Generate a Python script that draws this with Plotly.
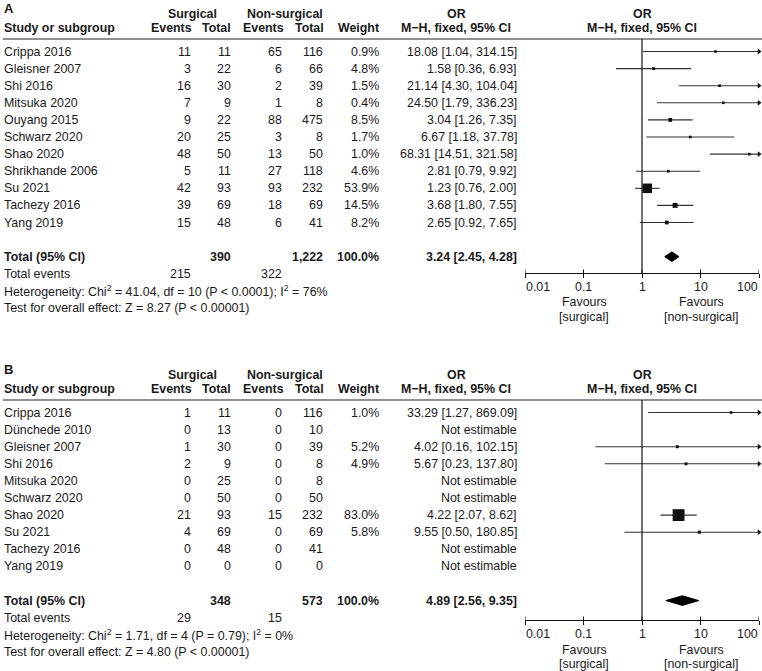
import math
import plotly.graph_objects as go

# ---------------- data ----------------
studies_a = ["Crippa 2016", "Gleisner 2007", "Shi 2016", "Mitsuka 2020", "Ouyang 2015",
             "Schwarz 2020", "Shao 2020", "Shrikhande 2006", "Su 2021", "Tachezy 2016", "Yang 2019"]
surg_ev_a = [11, 3, 16, 7, 9, 20, 48, 5, 42, 39, 15]
surg_tot_a = [11, 22, 30, 9, 22, 25, 50, 11, 93, 69, 48]
non_ev_a = [65, 6, 2, 1, 88, 3, 13, 27, 93, 18, 6]
non_tot_a = [116, 66, 39, 8, 475, 8, 50, 118, 232, 69, 41]
weight_a = [0.9, 4.8, 1.5, 0.4, 8.5, 1.7, 1.0, 4.6, 53.9, 14.5, 8.2]
or_a = [18.08, 1.58, 21.14, 24.50, 3.04, 6.67, 68.31, 2.81, 1.23, 3.68, 2.65]
lo_a = [1.04, 0.36, 4.30, 1.79, 1.26, 1.18, 14.51, 0.79, 0.76, 1.80, 0.92]
hi_a = [314.15, 6.93, 104.04, 336.23, 7.35, 37.78, 321.58, 9.92, 2.00, 7.55, 7.65]
total_a = {"surg_tot": "390", "non_tot": "1,222", "weight": "100.0%",
           "or": 3.24, "lo": 2.45, "hi": 4.28, "surg_ev": "215", "non_ev": "322"}
het_a = "Heterogeneity: Chi<sup>2</sup> = 41.04, df = 10 (P < 0.0001); I<sup>2</sup> = 76%"
test_a = "Test for overall effect: Z = 8.27 (P < 0.00001)"

studies_b = ["Crippa 2016", "Dünchede 2010", "Gleisner 2007", "Shi 2016", "Mitsuka 2020",
             "Schwarz 2020", "Shao 2020", "Su 2021", "Tachezy 2016", "Yang 2019"]
surg_ev_b = [1, 0, 1, 2, 0, 0, 21, 4, 0, 0]
surg_tot_b = [11, 13, 30, 9, 25, 50, 93, 69, 48, 0]
non_ev_b = [0, 0, 0, 0, 0, 0, 15, 0, 0, 0]
non_tot_b = [116, 10, 39, 8, 8, 50, 232, 69, 41, 0]
weight_b = [1.0, None, 5.2, 4.9, None, None, 83.0, 5.8, None, None]
or_b = [33.29, None, 4.02, 5.67, None, None, 4.22, 9.55, None, None]
lo_b = [1.27, None, 0.16, 0.23, None, None, 2.07, 0.50, None, None]
hi_b = [869.09, None, 102.15, 137.80, None, None, 8.62, 180.85, None, None]
total_b = {"surg_tot": "348", "non_tot": "573", "weight": "100.0%",
           "or": 4.89, "lo": 2.56, "hi": 9.35, "surg_ev": "29", "non_ev": "15"}
het_b = "Heterogeneity: Chi<sup>2</sup> = 1.71, df = 4 (P = 0.79); I<sup>2</sup> = 0%"
test_b = "Test for overall effect: Z = 4.80 (P < 0.00001)"

tick_vals = [0.01, 0.1, 1, 10, 100]
tick_text = ["0.01", "0.1", "1", "10", "100"]

# ---------------- layout constants ----------------
W, H = 762, 671
FONT = "Liberation Sans, Arial, sans-serif"
FS = 12.4
TXT = "#1a1a1a"
ROW_H = 17.1
X_SE, X_ST, X_NE, X_NT, X_W, X_OR = 192, 232, 283, 324, 380, 518
FX0, FX1 = 525, 759

fig = go.Figure()
ann = []
shapes = []


def px(x):
    return x / W


def py(y):
    return 1 - y / H


def text(x, y, s, anchor="right", bold=False, size=FS, xref="paper", yanchor="middle"):
    if bold:
        s = "<b>" + s + "</b>"
    ann.append(dict(x=px(x) if xref == "paper" else x, y=py(y), xref=xref, yref="paper",
                    text=s, showarrow=False, xanchor=anchor, yanchor=yanchor, borderpad=0,
                    font=dict(family=FONT, size=size, color=TXT)))


def panel(idx, label, y_top, studies, se, st, ne, nt, wt, orv, lo, hi, tot, het, test, axis_y):
    y_h1 = y_top + 10
    y_h2 = y_top + 24
    y_line = y_top + 35
    y_row0 = y_line + 12.5
    n = len(studies)

    text(3, y_top - 4, label, anchor="left", bold=True, size=13, yanchor="top")
    text(193, y_h1, "Surgical", anchor="center", bold=True)
    text(285, y_h1, "Non-surgical", anchor="center", bold=True)
    text(456, y_h1, "OR", anchor="center", bold=True)
    text(642, y_h1, "OR", anchor="center", bold=True)
    text(3, y_h2, "Study or subgroup", anchor="left", bold=True)
    text(193, y_h2, "Events", bold=True)
    text(232, y_h2, "Total", bold=True)
    text(285, y_h2, "Events", bold=True)
    text(325, y_h2, "Total", bold=True)
    text(X_W, y_h2, "Weight", bold=True)
    text(456, y_h2, "M\u2212H, fixed, 95% CI", anchor="center", bold=True)
    text(642, y_h2, "M\u2212H, fixed, 95% CI", anchor="center", bold=True)

    shapes.append(dict(type="line", xref="paper", yref="paper", x0=px(3), x1=1,
                       y0=py(y_line), y1=py(y_line), line=dict(color="#222", width=1.2)))

    for i in range(n):
        y = y_row0 + i * ROW_H
        text(3, y, studies[i], anchor="left")
        text(X_SE, y, str(se[i]))
        text(X_ST, y, str(st[i]))
        text(X_NE, y, str(ne[i]))
        text(X_NT, y, str(nt[i]))
        if wt[i] is not None:
            text(X_W, y, "%.1f%%" % wt[i])
            text(X_OR, y, "%.2f [%.2f, %.2f]" % (orv[i], lo[i], hi[i]))
        else:
            text(X_OR, y, "Not estimable")

    r_tot = n + 1
    yt = y_row0 + r_tot * ROW_H
    text(3, yt, "Total (95% CI)", anchor="left", bold=True)
    text(X_ST, yt, tot["surg_tot"], bold=True)
    text(X_NT, yt, tot["non_tot"], bold=True)
    text(X_W, yt, tot["weight"], bold=True)
    text(X_OR, yt, "%.2f [%.2f, %.2f]" % (tot["or"], tot["lo"], tot["hi"]), bold=True)
    text(3, yt + ROW_H, "Total events", anchor="left")
    text(X_SE, yt + ROW_H, tot["surg_ev"])
    text(X_NE, yt + ROW_H, tot["non_ev"])
    text(3, yt + 2 * ROW_H, het, anchor="left")
    text(3, yt + 3 * ROW_H, test, anchor="left")

    xa = "x" if idx == 1 else "x%d" % idx
    ya = "y" if idx == 1 else "y%d" % idx

    # tick labels (end labels kept inside the axis span, as in the reference)
    for k, (tv, tt) in enumerate(zip(tick_vals, tick_text)):
        anc = "left" if k == 0 else ("right" if k == len(tick_vals) - 1 else "center")
        text(math.log10(tv), axis_y + 13.5, tt, anchor=anc, xref=xa)

    text(584, axis_y + 29.5, "Favours", anchor="center")
    text(584, axis_y + 43.5, "[surgical]", anchor="center")
    text(701, axis_y + 29.5, "Favours", anchor="center")
    text(701, axis_y + 43.5, "[non-surgical]", anchor="center")

    top_row = (y_line - y_row0) / ROW_H
    bot_row = (axis_y - y_row0) / ROW_H
    dom_h = axis_y - y_line

    fig.layout["xaxis" if idx == 1 else "xaxis%d" % idx] = dict(
        type="log", range=[-2, 2], domain=[px(FX0), px(FX1)], anchor=ya,
        showline=True, linecolor="#111", linewidth=1, showgrid=False, zeroline=False,
        tickvals=tick_vals, ticktext=tick_text, ticks="outside", ticklen=3.5,
        tickcolor="#111", tickwidth=1, showticklabels=False, fixedrange=True)
    fig.layout["yaxis" if idx == 1 else "yaxis%d" % idx] = dict(
        range=[bot_row, top_row], domain=[py(axis_y), py(y_line)], anchor=xa,
        visible=False, showgrid=False, zeroline=False, fixedrange=True)

    # inner half of ticks
    for tv in tick_vals:
        shapes.append(dict(type="line", xref=xa, yref=ya + " domain", x0=tv, x1=tv,
                           y0=0, y1=3.5 / dom_h, line=dict(color="#111", width=1)))
    # line of no effect
    shapes.append(dict(type="line", xref=xa, yref=ya + " domain", x0=1, x1=1,
                       y0=0, y1=1, line=dict(color="#111", width=1.2)))

    # CIs and squares
    for i in range(n):
        if orv[i] is None:
            continue
        x_end = min(hi[i], 100)
        fig.add_trace(go.Scatter(x=[max(lo[i], 0.01), x_end], y=[i, i], mode="lines",
                                 line=dict(color="#333", width=1.1), xaxis=xa, yaxis=ya,
                                 hoverinfo="skip", cliponaxis=False))
        if hi[i] > 100:
            fig.add_trace(go.Scatter(x=[100], y=[i], mode="markers",
                                     marker=dict(symbol="triangle-right", size=5, color="#111"),
                                     xaxis=xa, yaxis=ya, hoverinfo="skip", cliponaxis=False))
        sz = max(2.6, 1.3 * wt[i] ** 0.5)
        fig.add_trace(go.Scatter(x=[orv[i]], y=[i], mode="markers",
                                 marker=dict(symbol="square", size=sz, color="#111",
                                             line=dict(width=0)),
                                 xaxis=xa, yaxis=ya, hoverinfo="skip", cliponaxis=False))
    # diamond
    hh = 4.8 / ROW_H
    fig.add_trace(go.Scatter(x=[tot["lo"], tot["or"], tot["hi"], tot["or"], tot["lo"]],
                             y=[r_tot, r_tot - hh, r_tot, r_tot + hh, r_tot],
                             mode="lines", fill="toself", fillcolor="#000",
                             line=dict(color="#000", width=1), xaxis=xa, yaxis=ya,
                             hoverinfo="skip"))


panel(1, "A", 4, studies_a, surg_ev_a, surg_tot_a, non_ev_a, non_tot_a, weight_a,
      or_a, lo_a, hi_a, total_a, het_a, test_a, axis_y=273)
panel(2, "B", 365, studies_b, surg_ev_b, surg_tot_b, non_ev_b, non_tot_b, weight_b,
      or_b, lo_b, hi_b, total_b, het_b, test_b, axis_y=620)

fig.update_layout(width=W, height=H, margin=dict(l=0, r=0, t=0, b=0, pad=0),
                  paper_bgcolor="white", plot_bgcolor="white", showlegend=False,
                  annotations=ann, shapes=shapes,
                  font=dict(family=FONT, size=FS, color=TXT))

fig.write_html("out.html", config={"displayModeBar": False},
               post_script="document.body.style.margin='0';document.body.style.overflow='hidden';")
